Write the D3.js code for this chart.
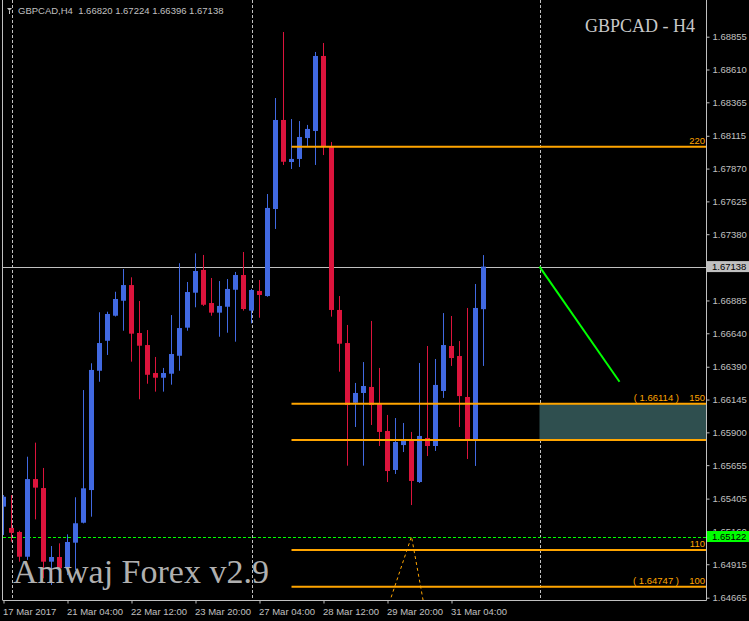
<!DOCTYPE html>
<html>
<head>
<meta charset="utf-8">
<script src="https://cdn.jsdelivr.net/npm/d3@7"></script>
<style>
  html, body { margin: 0; padding: 0; background: #000; }
  svg { display: block; }
</style>
</head>
<body>
<svg id="chart" width="749" height="621"></svg>
<script>
// ---------------- DATA ----------------
const symbolTitle = "GBPCAD,H4";
const headerValues = ["1.66820", "1.67224", "1.66396", "1.67138"];
const cornerTitle = "GBPCAD - H4";
const watermark = "Amwaj Forex v2.9";

const openP = [1.65345,1.65186,1.65156,1.64971,1.65551,1.65484,1.64934,1.64969,1.64887,1.65076,
  1.65225,1.65469,1.66360,1.66584,1.66771,1.66883,1.67000,1.66642,1.66552,1.66343,
  1.66308,1.66338,1.66472,1.66682,1.66943,1.67113,1.66866,1.66794,1.66838,1.66965,
  1.67075,1.66809,1.66956,1.66918,1.67568,1.68233,1.67919,1.67942,1.68098,1.68151,
  1.68711,1.68033,1.66814,1.66567,1.66121,1.66194,1.66239,1.66112,1.65910,1.65619,
  1.65805,1.65850,1.65529,1.65858,1.65798,1.66209,1.66545,1.66470,1.66164,1.65843,1.66820];
const highP = [1.65432,1.65432,1.65165,1.65718,1.65823,1.65634,1.65051,1.65071,1.65138,1.65415,
  1.66216,1.66416,1.66797,1.66801,1.66950,1.67120,1.67058,1.66881,1.66664,1.66463,
  1.66381,1.66776,1.67163,1.67023,1.67237,1.67225,1.67053,1.67030,1.67045,1.67098,
  1.67247,1.66971,1.67038,1.67680,1.68397,1.68890,1.68240,1.68225,1.68196,1.68741,
  1.68808,1.68069,1.66918,1.66702,1.66269,1.66425,1.66732,1.66381,1.66030,1.66007,
  1.65970,1.65903,1.66418,1.66545,1.66448,1.66791,1.66769,1.66582,1.66829,1.67008,1.67224];
const lowP = [1.65133,1.65083,1.64934,1.64947,1.65250,1.64810,1.64760,1.64820,1.64834,1.64872,
  1.65220,1.65270,1.66278,1.66478,1.66765,1.66659,1.66428,1.66147,1.66263,1.66204,
  1.66204,1.66256,1.66360,1.66659,1.66834,1.66844,1.66771,1.66614,1.66644,1.66577,
  1.66809,1.66714,1.66756,1.66913,1.67419,1.67897,1.67867,1.67882,1.68039,1.67897,
  1.67971,1.66764,1.66353,1.65651,1.65940,1.65651,1.65955,1.65798,1.65529,1.65589,
  1.65753,1.65357,1.65522,1.65723,1.65761,1.66157,1.66396,1.65940,1.65701,1.65649,1.66396];
const closeP = [1.65419,1.65150,1.64971,1.65551,1.65487,1.64934,1.64969,1.64885,1.65081,1.65221,
  1.65482,1.66366,1.66567,1.66784,1.66896,1.67000,1.66637,1.66547,1.66330,1.66308,
  1.66343,1.66485,1.66679,1.66948,1.67105,1.66853,1.66794,1.66844,1.66971,1.67075,
  1.66821,1.66963,1.66926,1.67576,1.68233,1.67921,1.67942,1.68106,1.68166,1.68711,
  1.68033,1.66814,1.66562,1.66104,1.66194,1.66246,1.66104,1.65903,1.65611,1.65828,
  1.65835,1.65537,1.65873,1.65798,1.66254,1.66552,1.66455,1.66171,1.65843,1.66829,1.67138];

// time axis (bar index -> label)
const timeTickBars = [0, 8, 16, 24, 32, 40, 48, 56];
const timeTickLabels = ["17 Mar 2017","21 Mar 04:00","22 Mar 12:00","23 Mar 20:00",
  "27 Mar 04:00","28 Mar 12:00","29 Mar 20:00","31 Mar 04:00"];

// price axis labels
const priceTicks = [1.68855,1.68610,1.68365,1.68115,1.67870,1.67625,1.67380,1.66885,1.66640,
  1.66390,1.66145,1.65900,1.65655,1.65405,1.65160,1.64915,1.64665];

// objects
const bidPrice = 1.67138;
const greenLevel = 1.65122;
const separatorBars = [1, 31, 67];
const levelStartBar = 36;
const levelPrices = [1.64747, 1.65021, 1.65842, 1.66114, 1.68033];
const levelNames = ["100", "110", "", "150", "220"];
const levelPriceTags = ["( 1.64747 )", "", "", "( 1.66114 )", ""];
const zoneStartBar = 67;
const zoneTop = 1.66114, zoneBottom = 1.65842;
const trendBars = [67, 77];
const trendPrices = [1.67138, 1.66278];
const triBars = [47.5, 51, 52.9];
const triPrices = [1.64498, 1.65122, 1.64498];

// ---------------- LAYOUT ----------------
const W = 749, H = 621;
const plotL = 3, plotR = 706, plotT = 0, plotB = 600;
const fontAxis = "'Liberation Sans', Arial, sans-serif";
const txtCol = "#c0c0c0";

const x = d3.scaleLinear().domain([0, 60]).range([3.5, 483.5]);
const y = d3.scaleLinear().domain([1.64665, 1.68855]).range([597.7, 36.7]);

const svg = d3.select("#chart");
svg.append("rect").attr("width", W).attr("height", H).attr("fill", "#000");

svg.append("defs").append("clipPath").attr("id", "plotClip")
  .append("rect").attr("x", plotL).attr("y", plotT).attr("width", plotR - plotL).attr("height", plotB - plotT);

const plot = svg.append("g").attr("clip-path", "url(#plotClip)");

// separators
plot.selectAll("line.sep").data(separatorBars).enter().append("line")
  .attr("class", "sep")
  .attr("x1", d => Math.round(x(d)) + 0.5).attr("x2", d => Math.round(x(d)) + 0.5)
  .attr("y1", plotT).attr("y2", plotB)
  .attr("stroke", "#c0c0c0").attr("stroke-width", 1).attr("stroke-dasharray", "3,2");

// teal zone
plot.append("rect")
  .attr("x", x(zoneStartBar)).attr("y", y(zoneTop))
  .attr("width", plotR - x(zoneStartBar)).attr("height", y(zoneBottom) - y(zoneTop))
  .attr("fill", "#2f4f4f");

// bid line
plot.append("line")
  .attr("x1", plotL).attr("x2", plotR)
  .attr("y1", Math.round(y(bidPrice)) + 0.5).attr("y2", Math.round(y(bidPrice)) + 0.5)
  .attr("stroke", "#c0c0c0").attr("stroke-width", 1);

// green dashed level
plot.append("line")
  .attr("x1", plotL).attr("x2", plotR)
  .attr("y1", Math.round(y(greenLevel)) + 0.5).attr("y2", Math.round(y(greenLevel)) + 0.5)
  .attr("stroke", "#00ff00").attr("stroke-width", 1).attr("stroke-dasharray", "3,2");

// candles
const bars = d3.range(openP.length).map(i => ({
  i, o: openP[i], h: highP[i], l: lowP[i], c: closeP[i]
}));
const colOf = d => d.c >= d.o ? "#4169e1" : "#dc143c";
const cg = plot.append("g");
cg.selectAll("line.wick").data(bars).enter().append("line")
  .attr("class", "wick")
  .attr("x1", d => x(d.i)).attr("x2", d => x(d.i))
  .attr("y1", d => y(d.h)).attr("y2", d => y(d.l))
  .attr("stroke", colOf).attr("stroke-width", 1);
cg.selectAll("rect.body").data(bars).enter().append("rect")
  .attr("class", "body")
  .attr("x", d => x(d.i) - 2.5).attr("width", 5)
  .attr("y", d => Math.min(y(d.o), y(d.c)))
  .attr("height", d => Math.max(1.5, Math.abs(y(d.o) - y(d.c))))
  .attr("fill", colOf);

// fibo levels
const lv = d3.range(levelPrices.length).map(k => ({p: levelPrices[k], n: levelNames[k], t: levelPriceTags[k]}));
plot.selectAll("line.lvl").data(lv).enter().append("line")
  .attr("class", "lvl")
  .attr("x1", x(levelStartBar)).attr("x2", plotR)
  .attr("y1", d => y(d.p)).attr("y2", d => y(d.p))
  .attr("stroke", "#ffa500").attr("stroke-width", 2);
plot.selectAll("text.lvn").data(lv).enter().append("text")
  .attr("class", "lvn")
  .attr("x", 705).attr("y", d => y(d.p) - 3)
  .attr("text-anchor", "end").attr("fill", "#ffa500")
  .style("font-family", fontAxis).style("font-size", "9.5px")
  .text(d => d.n);
plot.selectAll("text.lvt").data(lv.filter(d => d.t)).enter().append("text")
  .attr("class", "lvt")
  .attr("x", 679).attr("y", d => y(d.p) - 3)
  .attr("text-anchor", "end").attr("fill", "#ffa500")
  .style("font-family", fontAxis).style("font-size", "9.5px")
  .text(d => d.t);

// orange dotted triangle
const tri = d3.range(triBars.length).map(k => [x(triBars[k]), y(triPrices[k])]);
plot.append("path").attr("d", d3.line()(tri))
  .attr("fill", "none").attr("stroke", "#ffa500").attr("stroke-width", 1)
  .attr("stroke-dasharray", "3,3");

// green trend line
plot.append("line")
  .attr("x1", x(trendBars[0])).attr("y1", y(trendPrices[0]))
  .attr("x2", x(trendBars[1])).attr("y2", y(trendPrices[1]))
  .attr("stroke", "#00ff00").attr("stroke-width", 2);

// watermark
svg.append("text").attr("x", 13).attr("y", 583)
  .attr("fill", "#b0b0b0")
  .style("font-family", "'Liberation Serif', 'Times New Roman', serif").style("font-size", "34px")
  .text(watermark);

// corner title
svg.append("text").attr("x", 695).attr("y", 32)
  .attr("text-anchor", "end").attr("fill", "#c8c8c8")
  .style("font-family", "'Liberation Serif', 'Times New Roman', serif").style("font-size", "18px")
  .text(cornerTitle);

// header
svg.append("path").attr("d", "M7,8 L12,8 L9.5,11 Z").attr("fill", txtCol);
svg.append("line").attr("x1", 9.5).attr("x2", 9.5).attr("y1", 11).attr("y2", 14).attr("stroke", txtCol);
svg.append("text").attr("x", 18).attr("y", 14)
  .attr("fill", txtCol).style("font-family", fontAxis).style("font-size", "9.5px")
  .attr("xml:space", "preserve")
  .text(symbolTitle + "  " + headerValues.join(" "));

// frame lines
svg.append("line").attr("x1", 2.5).attr("x2", 2.5).attr("y1", 0).attr("y2", 600.5)
  .attr("stroke", "#c0c0c0");

// right price axis
const yAxis = d3.axisRight(y).tickValues(priceTicks).tickFormat(d3.format(".5f")).tickSize(3).tickPadding(3);
const ya = svg.append("g").attr("transform", `translate(${plotR + 0.5},0)`).call(yAxis);
ya.select(".domain").attr("d", `M0,${plotT}V${plotB + 0.5}`).attr("stroke", "#c0c0c0");
ya.selectAll(".tick line").attr("stroke", "#c0c0c0");
ya.selectAll(".tick text").attr("fill", txtCol)
  .style("font-family", fontAxis).style("font-size", "9.5px");

// bottom time axis
const xAxis = d3.axisBottom(x).tickValues(timeTickBars).tickFormat((d, i) => timeTickLabels[i]).tickSize(3).tickPadding(3);
const xa = svg.append("g").attr("transform", `translate(0,${plotB + 0.5})`).call(xAxis);
xa.select(".domain").attr("d", `M${plotL},0H${plotR + 0.5}`).attr("stroke", "#c0c0c0");
xa.selectAll(".tick line").attr("stroke", "#c0c0c0");
xa.selectAll(".tick text").attr("fill", txtCol).attr("text-anchor", "start")
  .attr("x", -1).attr("dy", "0.85em")
  .style("font-family", fontAxis).style("font-size", "9.5px");

// price tags on axis
function tag(price, bg) {
  const yy = y(price);
  const g = svg.append("g");
  g.append("rect").attr("x", 707).attr("y", yy - 5.5).attr("width", 42).attr("height", 11).attr("fill", bg);
  g.append("text").attr("x", 712).attr("y", yy + 3.5).attr("fill", "#000")
    .style("font-family", fontAxis).style("font-size", "9.5px")
    .text(d3.format(".5f")(price));
}
tag(bidPrice, "#c0c0c0");
tag(greenLevel, "#00ff00");
</script>
</body>
</html>
